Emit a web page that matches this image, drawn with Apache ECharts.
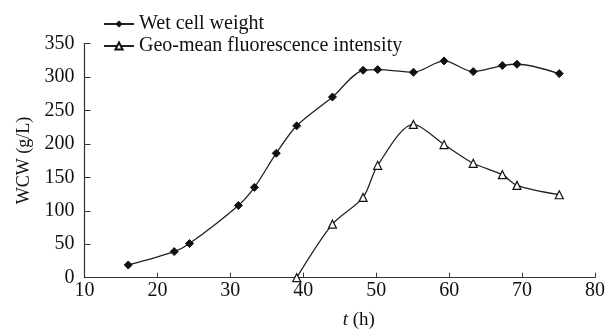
<!DOCTYPE html>
<html><head><meta charset="utf-8">
<script src="https://cdn.jsdelivr.net/npm/echarts@6/dist/echarts.min.js"></script>
<style>html,body{margin:0;padding:0;background:#fff}#c{width:614px;height:330px}</style>
</head><body><div id="c"></div>
<script>
const wcwTime = [16, 22.3, 24.4, 31.1, 33.3, 36.3, 39.1, 44, 48.2, 50.2, 55.1, 59.3, 63.3, 67.3, 69.3, 75.1];
const wcwValues = [19, 39, 51, 108, 135, 186, 227, 270, 310, 311, 307, 324, 308, 317, 319, 305];
const fluTime = [39.1, 44, 48.2, 50.2, 55.1, 59.3, 63.3, 67.3, 69.3, 75.1];
const fluValues = [0, 80, 120, 168, 229, 199, 171, 154, 138, 124];
const seriesNames = ['Wet cell weight', 'Geo-mean fluorescence intensity'];

const font = 'Liberation Serif, Times New Roman, serif';
const chart = echarts.init(document.getElementById('c'));
chart.setOption({
  animation: false,
  backgroundColor: '#fff',
  textStyle: { fontFamily: font, color: '#111' },
  grid: { left: 84.5, right: 19, top: 43.5, bottom: 52.3, containLabel: false, outerBoundsMode: 'none' },
  legend: {
    orient: 'vertical', left: 98, top: 9, itemWidth: 30, itemHeight: 9, itemGap: 2,
    textStyle: { fontFamily: font, fontSize: 20, color: '#111' },
    data: seriesNames
  },
  xAxis: {
    type: 'value', min: 10, max: 80, interval: 10,
    name: '{i|t} (h)', nameLocation: 'middle', nameGap: 33,
    nameTextStyle: { fontFamily: font, fontSize: 19, color: '#111', padding: [0, 0, 0, 38],
      rich: { i: { fontStyle: 'italic', fontFamily: font, fontSize: 19, color: '#111' } } },
    axisLine: { lineStyle: { color: '#333', width: 1.2 } },
    axisTick: { inside: true, length: 5, lineStyle: { color: '#333' } },
    axisLabel: { fontFamily: font, fontSize: 20, color: '#111', margin: 3 },
    splitLine: { show: false }
  },
  yAxis: {
    type: 'value', min: 0, max: 350, interval: 50,
    name: 'WCW (g/L)', nameLocation: 'middle', nameGap: 50,
    nameTextStyle: { fontFamily: font, fontSize: 18, color: '#111' },
    axisLine: { show: true, lineStyle: { color: '#333', width: 1.2 } },
    axisTick: { show: true, inside: true, length: 6, lineStyle: { color: '#333' } },
    axisLabel: { fontFamily: font, fontSize: 20, color: '#111', margin: 10 },
    splitLine: { show: false }
  },
  series: [
    {
      name: seriesNames[0], type: 'line', smooth: 0.3,
      data: wcwTime.map((t, i) => [t, wcwValues[i]]),
      symbol: 'diamond', symbolSize: 8,
      lineStyle: { color: '#222', width: 1.3 },
      itemStyle: { color: '#111', borderColor: '#111' }
    },
    {
      name: seriesNames[1], type: 'line', smooth: 0.3,
      data: fluTime.map((t, i) => [t, fluValues[i]]),
      symbol: 'triangle', symbolSize: 8,
      lineStyle: { color: '#222', width: 1.3 },
      itemStyle: { color: '#fff', borderColor: '#111', borderWidth: 1.2 }
    }
  ]
});
</script></body></html>
